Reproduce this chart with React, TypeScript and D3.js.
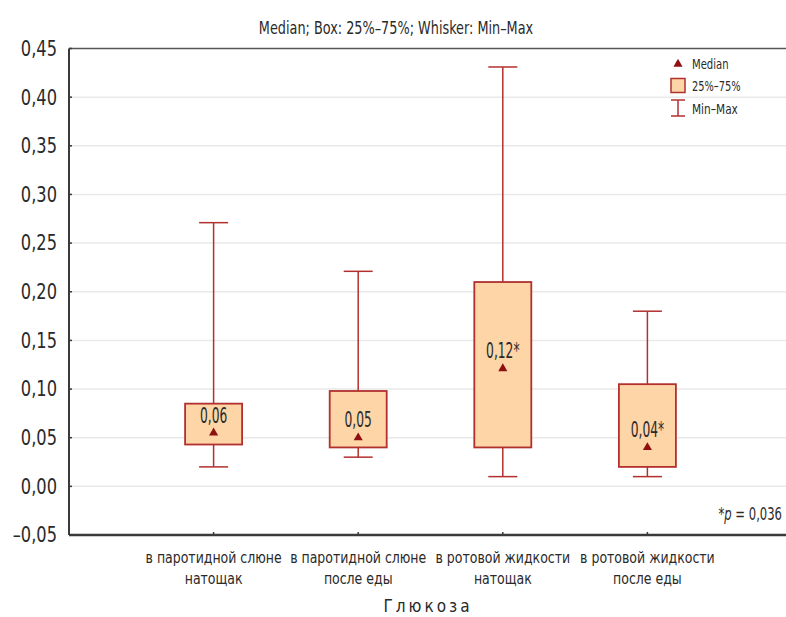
import React, { useEffect } from 'react';
import * as d3 from 'd3';

// ── Data ───────────────────────────────────────────────────────────────
const groupLine1 = ['в паротидной слюне', 'в паротидной слюне', 'в ротовой жидкости', 'в ротовой жидкости'];
const groupLine2 = ['натощак', 'после еды', 'натощак', 'после еды'];
const minValues = [0.02, 0.03, 0.01, 0.01];
const q1Values = [0.043, 0.04, 0.04, 0.02];
const medianValues = [0.055, 0.05, 0.121, 0.04];
const q3Values = [0.085, 0.098, 0.21, 0.105];
const maxValues = [0.271, 0.221, 0.431, 0.18];
const medianLabels = ['0,06', '0,05', '0,12*', '0,04*'];

const width = 786;
const height = 617;
const font = "'DejaVu Sans Condensed', 'DejaVu Sans', sans-serif";

const boxStroke = '#b2302e';
const boxFill = '#fdd5a6';
const markColor = '#8e1010';
const textColor = '#2a2a2a';

// condensed text: the reference uses a narrow font, so squeeze horizontally
const T = ({ x, y, sx = 0.82, size, anchor = 'start', children, ...rest }: any) => (
    <text
        transform={`translate(${x},${y}) scale(${sx},1)`}
        dy="0.35em"
        textAnchor={anchor}
        fontSize={size}
        fill={textColor}
        {...rest}
    >
        {children}
    </text>
);

const App = () => {
    useEffect(() => {
        document.body.style.margin = '0';
    }, []);

    // ── Scales ─────────────────────────────────────────────────────────
    const x = d3.scaleLinear().domain([0, 5]).range([69, 792]);
    const y = d3.scaleLinear().domain([-0.05, 0.45]).range([535, 48.5]);
    const ticks = d3.range(-0.05, 0.451, 0.05).map((v) => Math.round(v * 100) / 100);
    const fmt = (v: number) => d3.format('.2f')(v).replace('.', ',').replace('-', '–').replace('−', '–');

    const boxW = 57;
    const capW = 29;
    const tri = d3.symbol().type(d3.symbolTriangle).size(36)();

    return (
        <svg width={width} height={height} style={{ display: 'block', background: '#fff' }} fontFamily={font}>
            {/* title */}
            <T x={396} y={28} size={17} sx={0.84} anchor="middle">Median; Box: 25%–75%; Whisker: Min–Max</T>

            {/* grid */}
            {ticks.filter((t) => t > -0.04 && t < 0.44).map((t) => (
                <line key={'g' + t} x1={x(0)} x2={width} y1={y(t)} y2={y(t)} stroke="#e9e9e9" strokeWidth={1.5} />
            ))}

            {/* frame */}
            <line x1={x(0)} x2={width} y1={y(0.45)} y2={y(0.45)} stroke="#555" strokeWidth={1.5} />
            <line x1={x(0)} x2={x(0)} y1={y(0.45)} y2={y(-0.05)} stroke="#3a3a3a" strokeWidth={2} />
            <line x1={x(0)} x2={width} y1={y(-0.05)} y2={y(-0.05)} stroke="#3a3a3a" strokeWidth={2.5} />

            {/* y ticks */}
            {ticks.map((t) => (
                <g key={'t' + t}>
                    <line x1={x(0)} x2={x(0) + 3} y1={y(t)} y2={y(t)} stroke="#3a3a3a" strokeWidth={1.5} />
                    <T x={57} y={y(t)} size={21} sx={0.86} anchor="end">{fmt(t)}</T>
                </g>
            ))}

            {/* x ticks & labels */}
            {groupLine1.map((g, i) => (
                <g key={'x' + i}>
                    <line x1={x(i + 1)} x2={x(i + 1)} y1={y(-0.05)} y2={y(-0.05) - 3} stroke="#3a3a3a" strokeWidth={1.5} />
                    <T x={x(i + 1)} y={557} size={16} sx={0.87} anchor="middle">{g}</T>
                    <T x={x(i + 1)} y={578} size={16} sx={0.87} anchor="middle">{groupLine2[i]}</T>
                </g>
            ))}
            <T x={428} y={606} size={17} sx={1} anchor="middle" letterSpacing={3}>Глюкоза</T>

            {/* boxes */}
            {groupLine1.map((_, i) => {
                const cx = x(i + 1);
                return (
                    <g key={'b' + i}>
                        <line x1={cx} x2={cx} y1={y(maxValues[i])} y2={y(q3Values[i])} stroke={boxStroke} strokeWidth={1.5} />
                        <line x1={cx} x2={cx} y1={y(q1Values[i])} y2={y(minValues[i])} stroke={boxStroke} strokeWidth={1.5} />
                        <line x1={cx - capW / 2} x2={cx + capW / 2} y1={y(maxValues[i])} y2={y(maxValues[i])} stroke={boxStroke} strokeWidth={1.5} />
                        <line x1={cx - capW / 2} x2={cx + capW / 2} y1={y(minValues[i])} y2={y(minValues[i])} stroke={boxStroke} strokeWidth={1.5} />
                        <rect x={cx - boxW / 2} y={y(q3Values[i])} width={boxW} height={y(q1Values[i]) - y(q3Values[i])}
                            fill={boxFill} stroke={boxStroke} strokeWidth={1.8} />
                        <path d={tri!} transform={`translate(${cx},${y(medianValues[i])})`} fill={markColor} />
                        <T x={cx} y={y(medianValues[i]) - 18} size={22} sx={0.62} anchor="middle">{medianLabels[i]}</T>
                    </g>
                );
            })}

            {/* legend */}
            <path d={tri!} transform="translate(678,64)" fill={markColor} />
            <T x={692} y={64} size={14} sx={0.8}>Median</T>
            <rect x={671} y={78.5} width={14} height={14} fill={boxFill} stroke={boxStroke} strokeWidth={1.5} />
            <T x={692} y={86} size={14} sx={0.78}>25%–75%</T>
            <line x1={678} x2={678} y1={100} y2={116} stroke={boxStroke} strokeWidth={1.5} />
            <line x1={671} x2={685} y1={100} y2={100} stroke={boxStroke} strokeWidth={1.5} />
            <line x1={671} x2={685} y1={116} y2={116} stroke={boxStroke} strokeWidth={1.5} />
            <T x={692} y={109} size={14} sx={0.84}>Min–Max</T>

            {/* p-value */}
            <T x={782} y={514} size={17} sx={0.76} anchor="end">
                *<tspan fontStyle="italic">p</tspan> = 0,036
            </T>
        </svg>
    );
};

export default App;
